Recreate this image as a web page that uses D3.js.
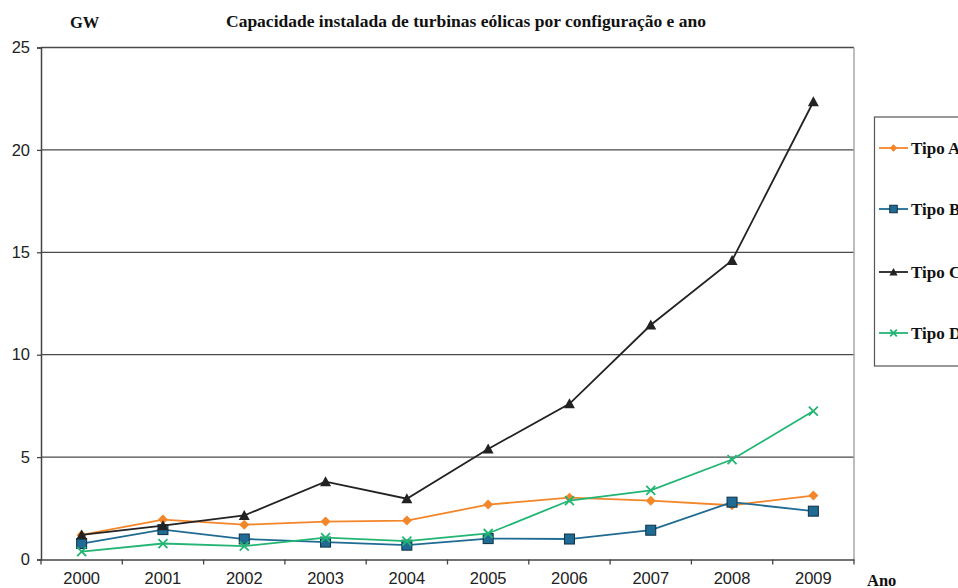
<!DOCTYPE html>
<html>
<head>
<meta charset="utf-8">
<script src="https://cdn.jsdelivr.net/npm/d3@7"></script>
<style>
  html, body { margin: 0; padding: 0; background: #fff; }
  svg { display: block; }
</style>
</head>
<body>
<svg id="chart" width="958" height="588"></svg>
<script>
// Installed wind-turbine capacity (GW) per configuration and year
const years = ["2000", "2001", "2002", "2003", "2004", "2005", "2006", "2007", "2008", "2009"];
const tipoA = [1.2, 1.95, 1.7, 1.85, 1.9, 2.68, 3.02, 2.87, 2.65, 3.12];
const tipoB = [0.78, 1.46, 1.0, 0.85, 0.7, 1.02, 1.0, 1.43, 2.8, 2.36];
const tipoC = [1.2, 1.65, 2.15, 3.8, 2.97, 5.4, 7.6, 11.45, 14.6, 22.35];
const tipoD = [0.38, 0.78, 0.65, 1.07, 0.9, 1.27, 2.88, 3.38, 4.88, 7.25];
const seriesNames = ["Tipo A", "Tipo B", "Tipo C", "Tipo D"];
const yTicks = [0, 5, 10, 15, 20, 25];

const series = [
  { name: seriesNames[0], values: tipoA, color: "#f4862a", marker: "diamond" },
  { name: seriesNames[1], values: tipoB, color: "#1f6b93", marker: "square" },
  { name: seriesNames[2], values: tipoC, color: "#222222", marker: "triangle" },
  { name: seriesNames[3], values: tipoD, color: "#22b573", marker: "cross" }
];

const svg = d3.select("#chart");
const plot = { left: 41, right: 854, top: 47.5, bottom: 559.5 };

const x = d3.scaleBand().domain(years).range([plot.left, plot.right]);
const y = d3.scaleLinear().domain([0, 25]).range([plot.bottom, plot.top]);
const cx = d => x(d) + x.bandwidth() / 2;

const sans = "Liberation Sans, Arial, sans-serif";
const serif = "Liberation Serif, Times New Roman, serif";

// Horizontal gridlines
svg.append("g")
  .selectAll("line")
  .data(yTicks.filter(t => t > 0))
  .join("line")
  .attr("x1", plot.left).attr("x2", plot.right)
  .attr("y1", d => y(d)).attr("y2", d => y(d))
  .attr("stroke", "#4a4a4a").attr("stroke-width", 1.3);

// Right frame edge
svg.append("line")
  .attr("x1", plot.right).attr("x2", plot.right)
  .attr("y1", plot.top).attr("y2", plot.bottom)
  .attr("stroke", "#a8a8a8").attr("stroke-width", 1.5);

// Y axis
const yAxis = svg.append("g")
  .attr("transform", `translate(${plot.left},0)`)
  .call(d3.axisLeft(y).tickValues(yTicks).tickSize(4).tickPadding(7).tickFormat(d3.format("d")));
yAxis.select(".domain").attr("stroke", "#444").attr("stroke-width", 1.5);
yAxis.selectAll(".tick line").attr("stroke", "#444").attr("stroke-width", 1.3);
yAxis.selectAll("text")
  .attr("font-family", sans)
  .attr("font-size", 16.5).attr("fill", "#222");

// X axis (ticks on category boundaries)
const xAxis = svg.append("g")
  .attr("transform", `translate(0,${plot.bottom})`)
  .call(d3.axisBottom(x).tickSize(0).tickPadding(13));
xAxis.select(".domain").attr("stroke", "#444").attr("stroke-width", 1.5);
xAxis.selectAll("text")
  .attr("font-family", sans)
  .attr("font-size", 16.5).attr("fill", "#222");
xAxis.append("g")
  .selectAll("line")
  .data(d3.range(years.length + 1))
  .join("line")
  .attr("x1", i => plot.left + i * x.step())
  .attr("x2", i => plot.left + i * x.step())
  .attr("y1", 0).attr("y2", 5)
  .attr("stroke", "#444").attr("stroke-width", 1.3);

// Marker shapes
function drawMarker(g, type, color, size) {
  const s = size || 1;
  if (type === "diamond") {
    g.append("path").attr("d", `M0,${-5 * s}L${5 * s},0L0,${5 * s}L${-5 * s},0Z`).attr("fill", color);
  } else if (type === "square") {
    g.append("rect").attr("x", -5 * s).attr("y", -5 * s).attr("width", 10 * s).attr("height", 10 * s)
      .attr("fill", color).attr("stroke", "#0d2e44").attr("stroke-width", 1);
  } else if (type === "triangle") {
    g.append("path").attr("d", `M0,${-5.5 * s}L${5.5 * s},${4.5 * s}L${-5.5 * s},${4.5 * s}Z`).attr("fill", color);
  } else if (type === "cross") {
    g.append("path").attr("d", `M${-4.5 * s},${-4.5 * s}L${4.5 * s},${4.5 * s}M${4.5 * s},${-4.5 * s}L${-4.5 * s},${4.5 * s}`)
      .attr("stroke", color).attr("stroke-width", 1.8).attr("fill", "none");
  }
}

const line = d3.line().x((d, i) => cx(years[i])).y(d => y(d));

series.forEach(s => {
  const g = svg.append("g");
  g.append("path")
    .datum(s.values)
    .attr("d", line)
    .attr("fill", "none")
    .attr("stroke", s.color)
    .attr("stroke-width", 1.8);
  s.values.forEach((v, i) => {
    const m = g.append("g").attr("transform", `translate(${cx(years[i])},${y(v)})`);
    drawMarker(m, s.marker, s.color);
  });
});

// Titles
svg.append("text").attr("x", 70).attr("y", 28).text("GW")
  .attr("font-family", serif).attr("font-weight", "bold").attr("font-size", 16.5).attr("fill", "#111");
svg.append("text").attr("x", 226).attr("y", 27).text("Capacidade instalada de turbinas eólicas por configuração e ano")
  .attr("font-family", serif).attr("font-weight", "bold").attr("font-size", 17.5).attr("fill", "#111");
svg.append("text").attr("x", 867).attr("y", 586).text("Ano")
  .attr("font-family", serif).attr("font-weight", "bold").attr("font-size", 16.5).attr("fill", "#111");

// Legend
const legend = svg.append("g");
legend.append("rect")
  .attr("x", 874.5).attr("y", 117).attr("width", 100).attr("height", 249)
  .attr("fill", "#fff").attr("stroke", "#555").attr("stroke-width", 1.2);
const legendY = [148, 209, 272, 333];
series.forEach((s, i) => {
  const ly = legendY[i];
  legend.append("line")
    .attr("x1", 879).attr("x2", 908).attr("y1", ly).attr("y2", ly)
    .attr("stroke", s.color).attr("stroke-width", 1.8);
  const m = legend.append("g").attr("transform", `translate(893.5,${ly})`);
  drawMarker(m, s.marker, s.color, 0.75);
  legend.append("text").attr("x", 911).attr("y", ly + 6).text(s.name)
    .attr("font-family", serif).attr("font-weight", "bold").attr("font-size", 17).attr("fill", "#111");
});
</script>
</body>
</html>
